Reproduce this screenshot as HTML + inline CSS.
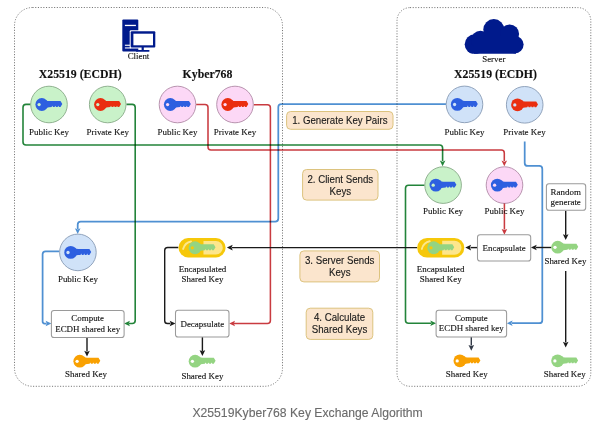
<!DOCTYPE html><html><head><meta charset="utf-8"><style>html,body{margin:0;padding:0;background:#fff;width:600px;height:430px;overflow:hidden}svg{display:block}</style></head><body>
<svg width="600" height="430" viewBox="0 0 600 430">
<rect x="14.5" y="7.5" width="268" height="378.8" rx="18" fill="none" stroke="#777" stroke-width="1" stroke-dasharray="1.1 1.6"/>
<rect x="397" y="7.6" width="193.8" height="378.7" rx="13" fill="none" stroke="#777" stroke-width="1" stroke-dasharray="1.1 1.6"/>
<path d="M30.7,104.4 L26.00,104.40 Q23,104.4 23.00,107.40 L23.00,142.00 Q23,145 26.00,145.00 L439.60,145.00 Q442.6,145 442.60,148.00 L442.6,161" fill="none" stroke="#23843a" stroke-width="1.6" stroke-linejoin="round" style="mix-blend-mode:multiply"/>
<polygon points="442.6,166.3 439.8,160.5 442.6,161.66 445.40000000000003,160.5" fill="#23843a"/>
<path d="M126.4,104.4 L132.20,104.40 Q135.2,104.4 135.20,107.40 L135.20,320.50 Q135.2,323.5 132.20,323.50 L129,323.5" fill="none" stroke="#23843a" stroke-width="1.6" stroke-linejoin="round" style="mix-blend-mode:multiply"/>
<polygon points="124.1,323.5 129.9,320.7 128.74,323.5 129.9,326.3" fill="#23843a"/>
<path d="M424.6,185.2 L408.50,185.20 Q405.5,185.2 405.50,188.20 L405.50,320.20 Q405.5,323.2 408.50,323.20 L431,323.2" fill="none" stroke="#23843a" stroke-width="1.6" stroke-linejoin="round" style="mix-blend-mode:multiply"/>
<polygon points="436.1,323.2 430.3,320.4 431.46000000000004,323.2 430.3,326.0" fill="#23843a"/>
<path d="M196.1,104.4 L205.00,104.40 Q208,104.4 208.00,107.40 L208.00,147.00 Q208,150 211.00,150.00 L501.30,150.00 Q504.3,150 504.30,153.00 L504.3,161" fill="none" stroke="#c93b40" stroke-width="1.55" stroke-linejoin="round" style="mix-blend-mode:multiply"/>
<polygon points="504.3,166.3 501.5,160.5 504.3,161.66 507.1,160.5" fill="#c93b40"/>
<path d="M253.7,104.8 L267.40,104.80 Q270.4,104.8 270.40,107.80 L270.40,320.50 Q270.4,323.5 267.40,323.50 L234,323.5" fill="none" stroke="#c93b40" stroke-width="1.55" stroke-linejoin="round" style="mix-blend-mode:multiply"/>
<polygon points="229.2,323.5 235.0,320.7 233.84,323.5 235.0,326.3" fill="#c93b40"/>
<path d="M446,104 L281.30,104.00 Q278.3,104 278.30,107.00 L278.30,218.60 Q278.3,221.6 275.30,221.60 L80.70,221.60 Q77.7,221.6 77.70,224.60 L77.7,229" fill="none" stroke="#4f90d2" stroke-width="1.75" stroke-linejoin="round" style="mix-blend-mode:multiply"/>
<polygon points="77.7,234.1 74.9,228.29999999999998 77.7,229.45999999999998 80.5,228.29999999999998" fill="#4f90d2"/>
<path d="M59.4,251.3 L45.60,251.30 Q42.6,251.3 42.60,254.30 L42.60,321.55 Q42.6,323.5 44.55,323.50 L46.5,323.5" fill="none" stroke="#4f90d2" stroke-width="1.75" stroke-linejoin="round" style="mix-blend-mode:multiply"/>
<polygon points="51.4,323.5 45.6,320.7 46.76,323.5 45.6,326.3" fill="#4f90d2"/>
<path d="M524.7,141.4 L524.70,162.90 Q524.7,165.9 527.70,165.90 L539.30,165.90 Q542.3,165.9 542.30,168.90 L542.30,320.20 Q542.3,323.2 539.30,323.20 L512,323.2" fill="none" stroke="#4f90d2" stroke-width="1.75" stroke-linejoin="round" style="mix-blend-mode:multiply"/>
<polygon points="506.8,323.2 512.6,320.4 511.44,323.2 512.6,326.0" fill="#4f90d2"/>
<path d="M565.7,210.7 L565.7,235" fill="none" stroke="#1a1a1a" stroke-width="1.4" stroke-linejoin="round"/>
<polygon points="565.7,240 562.9000000000001,234.2 565.7,235.35999999999999 568.5,234.2" fill="#1a1a1a"/>
<path d="M551.5,247.5 L536,247.5" fill="none" stroke="#1a1a1a" stroke-width="1.4" stroke-linejoin="round"/>
<polygon points="530.9,247.5 536.6999999999999,244.7 535.54,247.5 536.6999999999999,250.3" fill="#1a1a1a"/>
<path d="M477.5,247.6 L470.5,247.6" fill="none" stroke="#1a1a1a" stroke-width="1.4" stroke-linejoin="round"/>
<polygon points="465.3,247.6 471.1,244.79999999999998 469.94,247.6 471.1,250.4" fill="#1a1a1a"/>
<path d="M417.2,247.6 L232,247.6" fill="none" stroke="#1a1a1a" stroke-width="1.4" stroke-linejoin="round"/>
<polygon points="226.9,247.6 232.70000000000002,244.79999999999998 231.54000000000002,247.6 232.70000000000002,250.4" fill="#1a1a1a"/>
<path d="M178.3,247.5 L167.70,247.50 Q164.7,247.5 164.70,250.50 L164.70,320.70 Q164.7,323.5 167.50,323.50 L170.3,323.5" fill="none" stroke="#1a1a1a" stroke-width="1.4" stroke-linejoin="round"/>
<polygon points="175.5,323.5 169.7,320.7 170.85999999999999,323.5 169.7,326.3" fill="#1a1a1a"/>
<path d="M87,337.5 L87,351.5" fill="none" stroke="#1a1a1a" stroke-width="1.4" stroke-linejoin="round"/>
<polygon points="87,356.6 84.2,350.8 87,351.96000000000004 89.8,350.8" fill="#1a1a1a"/>
<path d="M202.4,337.1 L202.4,351" fill="none" stroke="#1a1a1a" stroke-width="1.4" stroke-linejoin="round"/>
<polygon points="202.4,356 199.6,350.2 202.4,351.36 205.20000000000002,350.2" fill="#1a1a1a"/>
<path d="M471.3,337.1 L471.3,345.5" fill="none" stroke="#333a48" stroke-width="1.4" stroke-linejoin="round"/>
<polygon points="471.3,350.7 468.5,344.9 471.3,346.06 474.1,344.9" fill="#333a48"/>
<path d="M565.7,270.9 L565.7,342.5" fill="none" stroke="#1a1a1a" stroke-width="1.4" stroke-linejoin="round"/>
<polygon points="565.7,347.6 562.9000000000001,341.8 565.7,342.96000000000004 568.5,341.8" fill="#1a1a1a"/>
<g fill="#001a8c"><rect x="122.3" y="19.4" width="16" height="32.2" rx="1"/></g>
<rect x="124.9" y="24.8" width="11" height="1.3" fill="#fff"/>
<rect x="124.9" y="44.7" width="6" height="1.1" fill="#fff"/>
<rect x="124.9" y="47.4" width="6" height="1.1" fill="#fff"/>
<rect x="129.7" y="30.2" width="26.6" height="18.2" rx="1.2" fill="#fff"/>
<rect x="130.7" y="31.2" width="24.6" height="16.2" rx="1" fill="#001a8c"/>
<rect x="133.4" y="33.7" width="19.6" height="11.6" fill="#fff"/>
<rect x="141.6" y="47" width="2.2" height="3" fill="#001a8c"/>
<rect x="135.9" y="49.9" width="13.6" height="1.8" rx="0.6" fill="#001a8c"/>
<text x="138.5" y="59.2" font-size="8.9" text-anchor="middle" font-weight="normal" style="font-family:'Liberation Serif', serif" fill="#111" stroke="#111" stroke-width="0.12">Client</text>
<clipPath id="cc"><rect x="460" y="10" width="70" height="43.7"/></clipPath>
<g fill="#001a8c" clip-path="url(#cc)"><circle cx="474.7" cy="44.3" r="10"/><circle cx="480.5" cy="40.2" r="9.4"/><circle cx="493.8" cy="29.6" r="10.5"/><circle cx="509.6" cy="33.9" r="9.5"/><circle cx="514.8" cy="44.6" r="8.8"/><rect x="474" y="36" width="42" height="20"/></g>
<text x="493.8" y="61.5" font-size="8.9" text-anchor="middle" font-weight="normal" style="font-family:'Liberation Serif', serif" fill="#111" stroke="#111" stroke-width="0.12">Server</text>
<text x="80.2" y="78.4" font-size="11.8" text-anchor="middle" font-weight="bold" style="font-family:'Liberation Serif', serif" fill="#111" stroke="#111" stroke-width="0.12">X25519 (ECDH)</text>
<text x="207.5" y="78.4" font-size="11.8" text-anchor="middle" font-weight="bold" style="font-family:'Liberation Serif', serif" fill="#111" stroke="#111" stroke-width="0.12">Kyber768</text>
<text x="495.5" y="78.3" font-size="11.8" text-anchor="middle" font-weight="bold" style="font-family:'Liberation Serif', serif" fill="#111" stroke="#111" stroke-width="0.12">X25519 (ECDH)</text>
<circle cx="49" cy="104.5" r="18.3" fill="#c9f2c9" stroke="#8cae8c" stroke-width="0.95"/>
<g transform="translate(41.8,104.5) scale(1.0)"><circle cx="0" cy="0" r="6.4" fill="#2d5fe0"/><path d="M4,-4.6 Q5.6,-3.4 7.5,-3.4 L18.7,-3.4 L20.5,-0.4 L18.7,2.5 L17.2,2.5 L16.5,1.2 L15.8,2.5 L14.2,2.5 L13.5,1.2 L12.8,2.5 L11.2,2.5 L10.5,1.2 L9.8,2.5 L7.5,2.7 Q5.6,2.7 4,4.0 Z" fill="#2d5fe0"/><circle cx="-2.7" cy="0.1" r="1.65" fill="#c9f2c9"/></g>
<circle cx="107.7" cy="104.5" r="18.3" fill="#c9f2c9" stroke="#8cae8c" stroke-width="0.95"/>
<g transform="translate(100.5,104.5) scale(1.0)"><circle cx="0" cy="0" r="6.4" fill="#ea2e10"/><path d="M4,-4.6 Q5.6,-3.4 7.5,-3.4 L18.7,-3.4 L20.5,-0.4 L18.7,2.5 L17.2,2.5 L16.5,1.2 L15.8,2.5 L14.2,2.5 L13.5,1.2 L12.8,2.5 L11.2,2.5 L10.5,1.2 L9.8,2.5 L7.5,2.7 Q5.6,2.7 4,4.0 Z" fill="#ea2e10"/><circle cx="-2.7" cy="0.1" r="1.65" fill="#c9f2c9"/></g>
<circle cx="177.5" cy="104.5" r="18.3" fill="#fcd8f6" stroke="#b48fab" stroke-width="0.95"/>
<g transform="translate(170.3,104.5) scale(1.0)"><circle cx="0" cy="0" r="6.4" fill="#2d5fe0"/><path d="M4,-4.6 Q5.6,-3.4 7.5,-3.4 L18.7,-3.4 L20.5,-0.4 L18.7,2.5 L17.2,2.5 L16.5,1.2 L15.8,2.5 L14.2,2.5 L13.5,1.2 L12.8,2.5 L11.2,2.5 L10.5,1.2 L9.8,2.5 L7.5,2.7 Q5.6,2.7 4,4.0 Z" fill="#2d5fe0"/><circle cx="-2.7" cy="0.1" r="1.65" fill="#fcd8f6"/></g>
<circle cx="235" cy="104.5" r="18.3" fill="#fcd8f6" stroke="#b48fab" stroke-width="0.95"/>
<g transform="translate(227.8,104.5) scale(1.0)"><circle cx="0" cy="0" r="6.4" fill="#ea2e10"/><path d="M4,-4.6 Q5.6,-3.4 7.5,-3.4 L18.7,-3.4 L20.5,-0.4 L18.7,2.5 L17.2,2.5 L16.5,1.2 L15.8,2.5 L14.2,2.5 L13.5,1.2 L12.8,2.5 L11.2,2.5 L10.5,1.2 L9.8,2.5 L7.5,2.7 Q5.6,2.7 4,4.0 Z" fill="#ea2e10"/><circle cx="-2.7" cy="0.1" r="1.65" fill="#fcd8f6"/></g>
<circle cx="464.5" cy="104.4" r="18.3" fill="#d0e2f8" stroke="#8c9fb8" stroke-width="0.95"/>
<g transform="translate(457.3,104.4) scale(1.0)"><circle cx="0" cy="0" r="6.4" fill="#2d5fe0"/><path d="M4,-4.6 Q5.6,-3.4 7.5,-3.4 L18.7,-3.4 L20.5,-0.4 L18.7,2.5 L17.2,2.5 L16.5,1.2 L15.8,2.5 L14.2,2.5 L13.5,1.2 L12.8,2.5 L11.2,2.5 L10.5,1.2 L9.8,2.5 L7.5,2.7 Q5.6,2.7 4,4.0 Z" fill="#2d5fe0"/><circle cx="-2.7" cy="0.1" r="1.65" fill="#d0e2f8"/></g>
<circle cx="524.7" cy="104.8" r="18.3" fill="#d0e2f8" stroke="#8c9fb8" stroke-width="0.95"/>
<g transform="translate(517.5,104.8) scale(1.0)"><circle cx="0" cy="0" r="6.4" fill="#ea2e10"/><path d="M4,-4.6 Q5.6,-3.4 7.5,-3.4 L18.7,-3.4 L20.5,-0.4 L18.7,2.5 L17.2,2.5 L16.5,1.2 L15.8,2.5 L14.2,2.5 L13.5,1.2 L12.8,2.5 L11.2,2.5 L10.5,1.2 L9.8,2.5 L7.5,2.7 Q5.6,2.7 4,4.0 Z" fill="#ea2e10"/><circle cx="-2.7" cy="0.1" r="1.65" fill="#d0e2f8"/></g>
<circle cx="443.1" cy="185.1" r="18.3" fill="#c9f2c9" stroke="#8cae8c" stroke-width="0.95"/>
<g transform="translate(435.90000000000003,185.1) scale(1.0)"><circle cx="0" cy="0" r="6.4" fill="#2d5fe0"/><path d="M4,-4.6 Q5.6,-3.4 7.5,-3.4 L18.7,-3.4 L20.5,-0.4 L18.7,2.5 L17.2,2.5 L16.5,1.2 L15.8,2.5 L14.2,2.5 L13.5,1.2 L12.8,2.5 L11.2,2.5 L10.5,1.2 L9.8,2.5 L7.5,2.7 Q5.6,2.7 4,4.0 Z" fill="#2d5fe0"/><circle cx="-2.7" cy="0.1" r="1.65" fill="#c9f2c9"/></g>
<circle cx="504.5" cy="185.1" r="18.3" fill="#fcd8f6" stroke="#b48fab" stroke-width="0.95"/>
<g transform="translate(497.3,185.1) scale(1.0)"><circle cx="0" cy="0" r="6.4" fill="#2d5fe0"/><path d="M4,-4.6 Q5.6,-3.4 7.5,-3.4 L18.7,-3.4 L20.5,-0.4 L18.7,2.5 L17.2,2.5 L16.5,1.2 L15.8,2.5 L14.2,2.5 L13.5,1.2 L12.8,2.5 L11.2,2.5 L10.5,1.2 L9.8,2.5 L7.5,2.7 Q5.6,2.7 4,4.0 Z" fill="#2d5fe0"/><circle cx="-2.7" cy="0.1" r="1.65" fill="#fcd8f6"/></g>
<circle cx="77.9" cy="252.4" r="18.3" fill="#d0e2f8" stroke="#8c9fb8" stroke-width="0.95"/>
<g transform="translate(70.7,252.4) scale(1.0)"><circle cx="0" cy="0" r="6.4" fill="#2d5fe0"/><path d="M4,-4.6 Q5.6,-3.4 7.5,-3.4 L18.7,-3.4 L20.5,-0.4 L18.7,2.5 L17.2,2.5 L16.5,1.2 L15.8,2.5 L14.2,2.5 L13.5,1.2 L12.8,2.5 L11.2,2.5 L10.5,1.2 L9.8,2.5 L7.5,2.7 Q5.6,2.7 4,4.0 Z" fill="#2d5fe0"/><circle cx="-2.7" cy="0.1" r="1.65" fill="#d0e2f8"/></g>
<text x="49" y="134.7" font-size="8.95" text-anchor="middle" font-weight="normal" style="font-family:'Liberation Serif', serif" fill="#111" stroke="#111" stroke-width="0.12">Public Key</text>
<text x="107.7" y="134.7" font-size="8.95" text-anchor="middle" font-weight="normal" style="font-family:'Liberation Serif', serif" fill="#111" stroke="#111" stroke-width="0.12">Private Key</text>
<text x="177.5" y="134.7" font-size="8.95" text-anchor="middle" font-weight="normal" style="font-family:'Liberation Serif', serif" fill="#111" stroke="#111" stroke-width="0.12">Public Key</text>
<text x="235" y="134.7" font-size="8.95" text-anchor="middle" font-weight="normal" style="font-family:'Liberation Serif', serif" fill="#111" stroke="#111" stroke-width="0.12">Private Key</text>
<text x="464.5" y="134.7" font-size="8.95" text-anchor="middle" font-weight="normal" style="font-family:'Liberation Serif', serif" fill="#111" stroke="#111" stroke-width="0.12">Public Key</text>
<text x="524.5" y="134.7" font-size="8.95" text-anchor="middle" font-weight="normal" style="font-family:'Liberation Serif', serif" fill="#111" stroke="#111" stroke-width="0.12">Private Key</text>
<text x="443.1" y="214.4" font-size="8.95" text-anchor="middle" font-weight="normal" style="font-family:'Liberation Serif', serif" fill="#111" stroke="#111" stroke-width="0.12">Public Key</text>
<text x="504.5" y="214.4" font-size="8.95" text-anchor="middle" font-weight="normal" style="font-family:'Liberation Serif', serif" fill="#111" stroke="#111" stroke-width="0.12">Public Key</text>
<text x="77.9" y="281.6" font-size="8.95" text-anchor="middle" font-weight="normal" style="font-family:'Liberation Serif', serif" fill="#111" stroke="#111" stroke-width="0.12">Public Key</text>
<path d="M504.4,203.4 L504.4,229.5" fill="none" stroke="#c93b40" stroke-width="1.55" stroke-linejoin="round" style="mix-blend-mode:multiply"/>
<polygon points="504.4,234.7 501.59999999999997,228.89999999999998 504.4,230.05999999999997 507.2,228.89999999999998" fill="#c93b40"/>
<rect x="178.5" y="238.1" width="47.099999999999994" height="19.299999999999983" rx="9.649999999999991" fill="#f6c80a"/>
<path d="M203.463,240.9 L215.95,240.9 A6.849999999999992,6.849999999999992 0 0 1 215.95,254.59999999999997 L203.463,254.59999999999997 Z" fill="#fde68c"/>
<path d="M183.1,248.908 Q185.0,242.5 191.0,241.5" fill="none" stroke="#fce88c" stroke-width="1.9" stroke-linecap="round"/>
<g transform="translate(195.0,247.75) scale(1.0)"><circle cx="0" cy="0" r="6.4" fill="#94d482"/><path d="M4,-4.6 Q5.6,-3.4 7.5,-3.4 L18.7,-3.4 L20.5,-0.4 L18.7,2.5 L17.2,2.5 L16.5,1.2 L15.8,2.5 L14.2,2.5 L13.5,1.2 L12.8,2.5 L11.2,2.5 L10.5,1.2 L9.8,2.5 L7.5,2.7 Q5.6,2.7 4,4.0 Z" fill="#94d482"/><circle cx="-2.7" cy="0.1" r="1.65" fill="#f6c80a"/></g>
<rect x="417.2" y="237.9" width="47.10000000000002" height="19.700000000000017" rx="9.850000000000009" fill="#f6c80a"/>
<path d="M442.163,240.70000000000002 L454.45,240.70000000000002 A7.050000000000009,7.050000000000009 0 0 1 454.45,254.8 L442.163,254.8 Z" fill="#fde68c"/>
<path d="M421.8,248.93200000000002 Q423.7,242.3 429.7,241.3" fill="none" stroke="#fce88c" stroke-width="1.9" stroke-linecap="round"/>
<g transform="translate(433.7,247.75) scale(1.0)"><circle cx="0" cy="0" r="6.4" fill="#94d482"/><path d="M4,-4.6 Q5.6,-3.4 7.5,-3.4 L18.7,-3.4 L20.5,-0.4 L18.7,2.5 L17.2,2.5 L16.5,1.2 L15.8,2.5 L14.2,2.5 L13.5,1.2 L12.8,2.5 L11.2,2.5 L10.5,1.2 L9.8,2.5 L7.5,2.7 Q5.6,2.7 4,4.0 Z" fill="#94d482"/><circle cx="-2.7" cy="0.1" r="1.65" fill="#f6c80a"/></g>
<text x="202.5" y="271.9" font-size="8.95" text-anchor="middle" font-weight="normal" style="font-family:'Liberation Serif', serif" fill="#111" stroke="#111" stroke-width="0.12">Encapsulated</text>
<text x="202.5" y="282.1" font-size="8.95" text-anchor="middle" font-weight="normal" style="font-family:'Liberation Serif', serif" fill="#111" stroke="#111" stroke-width="0.12">Shared Key</text>
<text x="440.7" y="271.9" font-size="8.95" text-anchor="middle" font-weight="normal" style="font-family:'Liberation Serif', serif" fill="#111" stroke="#111" stroke-width="0.12">Encapsulated</text>
<text x="440.7" y="282.1" font-size="8.95" text-anchor="middle" font-weight="normal" style="font-family:'Liberation Serif', serif" fill="#111" stroke="#111" stroke-width="0.12">Shared Key</text>
<rect x="51.4" y="310.5" width="72.69999999999999" height="27.0" rx="2.6" fill="#fff" stroke="#9a9a9a" stroke-width="1.05"/>
<text x="87.7" y="321.3" font-size="8.95" text-anchor="middle" font-weight="normal" style="font-family:'Liberation Serif', serif" fill="#111" stroke="#111" stroke-width="0.12">Compute</text>
<text x="87.7" y="331.8" font-size="8.95" text-anchor="middle" font-weight="normal" style="font-family:'Liberation Serif', serif" fill="#111" stroke="#111" stroke-width="0.12">ECDH shared key</text>
<rect x="175.5" y="310.3" width="53.5" height="26.80000000000001" rx="2.6" fill="#fff" stroke="#9a9a9a" stroke-width="1.05"/>
<text x="202.3" y="326.5" font-size="8.95" text-anchor="middle" font-weight="normal" style="font-family:'Liberation Serif', serif" fill="#111" stroke="#111" stroke-width="0.12">Decapsulate</text>
<rect x="436.1" y="310.3" width="70.5" height="26.80000000000001" rx="2.6" fill="#fff" stroke="#9a9a9a" stroke-width="1.05"/>
<text x="471.3" y="321.3" font-size="8.95" text-anchor="middle" font-weight="normal" style="font-family:'Liberation Serif', serif" fill="#111" stroke="#111" stroke-width="0.12">Compute</text>
<text x="471.3" y="331.4" font-size="8.95" text-anchor="middle" font-weight="normal" style="font-family:'Liberation Serif', serif" fill="#111" stroke="#111" stroke-width="0.12">ECDH shared key</text>
<rect x="477.5" y="234.7" width="53.200000000000045" height="26.30000000000001" rx="2.6" fill="#fff" stroke="#9a9a9a" stroke-width="1.05"/>
<text x="504.1" y="250.9" font-size="8.95" text-anchor="middle" font-weight="normal" style="font-family:'Liberation Serif', serif" fill="#111" stroke="#111" stroke-width="0.12">Encapsulate</text>
<rect x="546.4" y="183.8" width="39.30000000000007" height="26.5" rx="2.6" fill="#fff" stroke="#9a9a9a" stroke-width="1.05"/>
<text x="565.7" y="194.9" font-size="8.95" text-anchor="middle" font-weight="normal" style="font-family:'Liberation Serif', serif" fill="#111" stroke="#111" stroke-width="0.12">Random</text>
<text x="565.7" y="204.8" font-size="8.95" text-anchor="middle" font-weight="normal" style="font-family:'Liberation Serif', serif" fill="#111" stroke="#111" stroke-width="0.12">generate</text>
<g transform="translate(79.8,361.2) scale(1.0)"><circle cx="0" cy="0" r="6.4" fill="#f9a102"/><path d="M4,-4.6 Q5.6,-3.4 7.5,-3.4 L18.7,-3.4 L20.5,-0.4 L18.7,2.5 L17.2,2.5 L16.5,1.2 L15.8,2.5 L14.2,2.5 L13.5,1.2 L12.8,2.5 L11.2,2.5 L10.5,1.2 L9.8,2.5 L7.5,2.7 Q5.6,2.7 4,4.0 Z" fill="#f9a102"/><circle cx="-2.7" cy="0.1" r="1.65" fill="#fff"/></g>
<text x="86.1" y="377.4" font-size="8.95" text-anchor="middle" font-weight="normal" style="font-family:'Liberation Serif', serif" fill="#111" stroke="#111" stroke-width="0.12">Shared Key</text>
<g transform="translate(195.1,361.2) scale(1.0)"><circle cx="0" cy="0" r="6.4" fill="#94d482"/><path d="M4,-4.6 Q5.6,-3.4 7.5,-3.4 L18.7,-3.4 L20.5,-0.4 L18.7,2.5 L17.2,2.5 L16.5,1.2 L15.8,2.5 L14.2,2.5 L13.5,1.2 L12.8,2.5 L11.2,2.5 L10.5,1.2 L9.8,2.5 L7.5,2.7 Q5.6,2.7 4,4.0 Z" fill="#94d482"/><circle cx="-2.7" cy="0.1" r="1.65" fill="#fff"/></g>
<text x="202.4" y="378.9" font-size="8.95" text-anchor="middle" font-weight="normal" style="font-family:'Liberation Serif', serif" fill="#111" stroke="#111" stroke-width="0.12">Shared Key</text>
<g transform="translate(459.9,360.8) scale(1.0)"><circle cx="0" cy="0" r="6.4" fill="#f9a102"/><path d="M4,-4.6 Q5.6,-3.4 7.5,-3.4 L18.7,-3.4 L20.5,-0.4 L18.7,2.5 L17.2,2.5 L16.5,1.2 L15.8,2.5 L14.2,2.5 L13.5,1.2 L12.8,2.5 L11.2,2.5 L10.5,1.2 L9.8,2.5 L7.5,2.7 Q5.6,2.7 4,4.0 Z" fill="#f9a102"/><circle cx="-2.7" cy="0.1" r="1.65" fill="#fff"/></g>
<text x="466.7" y="377.4" font-size="8.95" text-anchor="middle" font-weight="normal" style="font-family:'Liberation Serif', serif" fill="#111" stroke="#111" stroke-width="0.12">Shared Key</text>
<g transform="translate(557.6,360.8) scale(1.0)"><circle cx="0" cy="0" r="6.4" fill="#94d482"/><path d="M4,-4.6 Q5.6,-3.4 7.5,-3.4 L18.7,-3.4 L20.5,-0.4 L18.7,2.5 L17.2,2.5 L16.5,1.2 L15.8,2.5 L14.2,2.5 L13.5,1.2 L12.8,2.5 L11.2,2.5 L10.5,1.2 L9.8,2.5 L7.5,2.7 Q5.6,2.7 4,4.0 Z" fill="#94d482"/><circle cx="-2.7" cy="0.1" r="1.65" fill="#fff"/></g>
<text x="564.8" y="377.4" font-size="8.95" text-anchor="middle" font-weight="normal" style="font-family:'Liberation Serif', serif" fill="#111" stroke="#111" stroke-width="0.12">Shared Key</text>
<g transform="translate(557.7,247.2) scale(1.0)"><circle cx="0" cy="0" r="6.4" fill="#94d482"/><path d="M4,-4.6 Q5.6,-3.4 7.5,-3.4 L18.7,-3.4 L20.5,-0.4 L18.7,2.5 L17.2,2.5 L16.5,1.2 L15.8,2.5 L14.2,2.5 L13.5,1.2 L12.8,2.5 L11.2,2.5 L10.5,1.2 L9.8,2.5 L7.5,2.7 Q5.6,2.7 4,4.0 Z" fill="#94d482"/><circle cx="-2.7" cy="0.1" r="1.65" fill="#fff"/></g>
<text x="565.4" y="263.9" font-size="8.95" text-anchor="middle" font-weight="normal" style="font-family:'Liberation Serif', serif" fill="#111" stroke="#111" stroke-width="0.12">Shared Key</text>
<rect x="286.6" y="111.5" width="106.39999999999998" height="17.80000000000001" rx="4" fill="#fbe5cd" stroke="#dcc37e" stroke-width="1"/>
<text transform="translate(339.8,123.9) scale(1,1.06)" x="0" y="0" font-size="9.7" text-anchor="middle" style="font-family:'Liberation Sans', sans-serif" fill="#1a1a1a" stroke="#1a1a1a" stroke-width="0.12">1. Generate Key Pairs</text>
<rect x="302.6" y="169.5" width="75.39999999999998" height="30.599999999999994" rx="4" fill="#fbe5cd" stroke="#dcc37e" stroke-width="1"/>
<text transform="translate(340.3,183.0) scale(1,1.06)" x="0" y="0" font-size="9.7" text-anchor="middle" style="font-family:'Liberation Sans', sans-serif" fill="#1a1a1a" stroke="#1a1a1a" stroke-width="0.12">2. Client Sends</text>
<text transform="translate(340.3,195.0) scale(1,1.06)" x="0" y="0" font-size="9.7" text-anchor="middle" style="font-family:'Liberation Sans', sans-serif" fill="#1a1a1a" stroke="#1a1a1a" stroke-width="0.12">Keys</text>
<rect x="299.9" y="250.9" width="79.60000000000002" height="30.99999999999997" rx="4" fill="#fbe5cd" stroke="#dcc37e" stroke-width="1"/>
<text transform="translate(339.7,264.09999999999997) scale(1,1.06)" x="0" y="0" font-size="9.7" text-anchor="middle" style="font-family:'Liberation Sans', sans-serif" fill="#1a1a1a" stroke="#1a1a1a" stroke-width="0.12">3. Server Sends</text>
<text transform="translate(339.7,276.0) scale(1,1.06)" x="0" y="0" font-size="9.7" text-anchor="middle" style="font-family:'Liberation Sans', sans-serif" fill="#1a1a1a" stroke="#1a1a1a" stroke-width="0.12">Keys</text>
<rect x="306.2" y="308.2" width="66.60000000000002" height="31.19999999999999" rx="4" fill="#fbe5cd" stroke="#dcc37e" stroke-width="1"/>
<text transform="translate(339.5,321.2) scale(1,1.06)" x="0" y="0" font-size="9.7" text-anchor="middle" style="font-family:'Liberation Sans', sans-serif" fill="#1a1a1a" stroke="#1a1a1a" stroke-width="0.12">4. Calculate</text>
<text transform="translate(339.5,332.9) scale(1,1.06)" x="0" y="0" font-size="9.7" text-anchor="middle" style="font-family:'Liberation Sans', sans-serif" fill="#1a1a1a" stroke="#1a1a1a" stroke-width="0.12">Shared Keys</text>
<text x="307.6" y="417.3" font-size="12.2" text-anchor="middle" font-weight="normal" style="font-family:'Liberation Sans', sans-serif" fill="#6b6b6b" stroke="#6b6b6b" stroke-width="0.12">X25519Kyber768 Key Exchange Algorithm</text>
</svg></body></html>
